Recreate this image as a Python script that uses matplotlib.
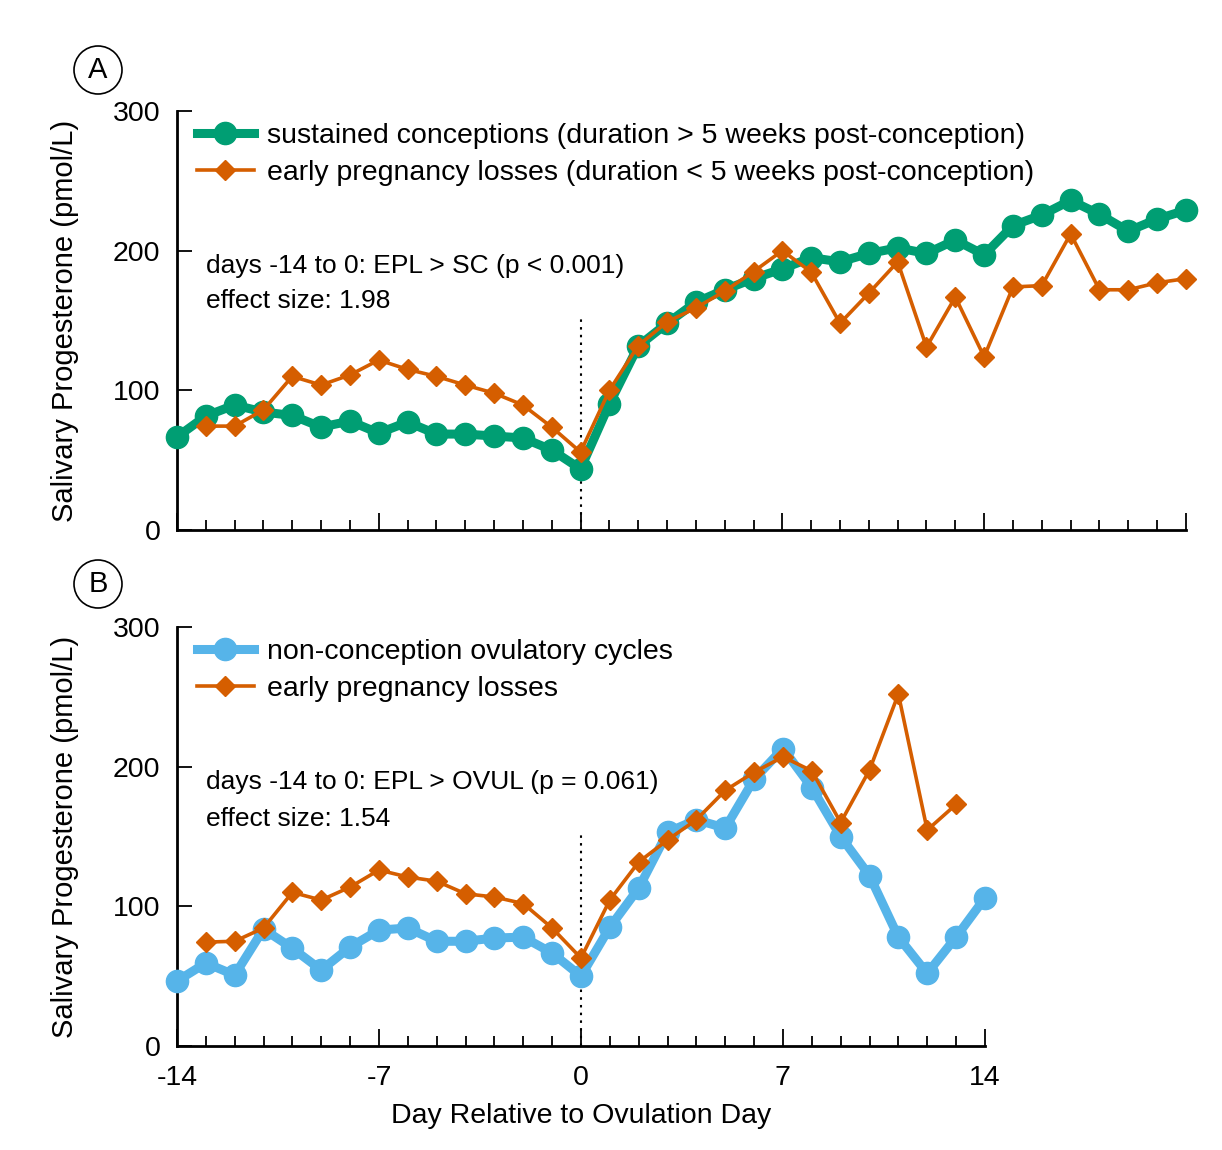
import matplotlib
matplotlib.use("Agg")
import matplotlib.pyplot as plt
from matplotlib.patches import Ellipse

plt.rcParams['font.family'] = ['Liberation Sans', 'DejaVu Sans']

# ---- data ----
days_a = list(range(-14, 22))
sc_vals = [66.6, 81.6, 89.5, 84.5, 82, 73.7, 78, 69.4, 77.3, 68.7, 68.7, 67.3, 65.9, 57.3, 43.7,
           90.2, 131.7, 148, 163, 172, 180, 187, 195, 192, 198, 202, 198, 207.6, 197,
           218, 225.5, 236, 226, 214, 222.6, 229]
days_epl_a = list(range(-13, 22))
epl_a_vals = [74.4, 74.4, 86, 110, 103.8, 111, 121.7, 115, 110, 103.8, 98, 89.5, 73.7, 55.8,
              100, 132, 149, 159, 171, 185, 200, 184.7, 148, 169.6, 192, 131, 166.8, 124,
              174, 175, 212, 172, 172, 177, 180]

days_b = list(range(-14, 15))
ovul_vals = [46.5, 59.4, 50.8, 83.7, 70, 54.4, 70.9, 83, 84.5, 75, 75, 77.3, 78, 66.6, 50,
             85, 113, 153, 162, 156, 191, 213, 185, 150, 122, 78, 52, 78, 106]
days_epl_b = list(range(-13, 14))
epl_b_vals = [74.4, 75, 84.5, 110, 104.5, 113.8, 126, 121, 118, 109, 106.7, 102, 84.5, 63,
              104.5, 131.7, 147.5, 162, 183, 196, 207, 197, 160, 197.6, 252, 154.6, 173]

xticks = [-14, -7, 0, 7, 14]
xticklabels = ['-14', '-7', '0', '7', '14']
yticks = [0, 100, 200, 300]

GREEN = '#009E73'
ORANGE = '#D55E00'
BLUE = '#56B4E9'

FS = 20.5

fig = plt.figure(figsize=(12.22, 11.5), dpi=100)
axA = fig.add_axes([0.1448, 0.5391, 0.9705 - 0.1448, 0.9035 - 0.5391])
axB = fig.add_axes([0.1448, 0.0904, 0.806 - 0.1448, 0.4548 - 0.0904])


def style(ax, xmax, show_labels):
    for s in ['top', 'right']:
        ax.spines[s].set_visible(False)
    for s in ['left', 'bottom']:
        ax.spines[s].set_linewidth(2)
    ax.set_xlim(-14, xmax)
    ax.set_ylim(0, 300)
    ax.set_yticks(yticks)
    ax.set_yticklabels([str(v) for v in yticks], fontsize=FS)
    ax.set_xticks(xticks + ([21] if xmax == 21 else []))
    ax.set_xticks(list(range(-14, xmax + 1)), minor=True)
    ax.tick_params(axis='both', which='major', direction='in', length=12, width=1.3)
    ax.tick_params(axis='x', which='major', pad=14)
    ax.tick_params(axis='y', which='major', pad=12, length=11)
    ax.tick_params(axis='x', which='minor', direction='in', length=7, width=1.3)
    if show_labels:
        ax.set_xticklabels(xticklabels, fontsize=FS)
    else:
        ax.set_xticklabels([])
    ax.set_ylabel('Salivary Progesterone (pmol/L)', fontsize=21, labelpad=24)
    ax.axvline(0, ymin=0, ymax=0.51, color='black', linestyle=(0, (1.2, 2.5)), linewidth=1.5, zorder=1)


style(axA, 21, False)
style(axB, 14, True)

axA.plot(days_a, sc_vals, color=GREEN, lw=6.5, marker='o', ms=16, clip_on=False, zorder=3,
         label='sustained conceptions (duration > 5 weeks post-conception)')
axA.plot(days_epl_a, epl_a_vals, color=ORANGE, lw=2.6, marker='D', ms=10, clip_on=False, zorder=4,
         label='early pregnancy losses (duration < 5 weeks post-conception)')

axB.plot(days_b, ovul_vals, color=BLUE, lw=6.5, marker='o', ms=16, clip_on=False, zorder=3,
         label='non-conception ovulatory cycles')
axB.plot(days_epl_b, epl_b_vals, color=ORANGE, lw=2.6, marker='D', ms=10, clip_on=False, zorder=4,
         label='early pregnancy losses')

for ax in (axA, axB):
    ax.legend(loc='upper left', bbox_to_anchor=(0.0, 1.018), frameon=False, fontsize=FS,
              handlelength=2.0, handletextpad=0.45, labelspacing=0.38, borderaxespad=0.3)

TS = 19
axA.text(-13, 189, 'days -14 to 0: EPL > SC (p < 0.001)', fontsize=TS, va='center')
axA.text(-13, 164, 'effect size: 1.98', fontsize=TS, va='center')
axB.text(-13, 189, 'days -14 to 0: EPL > OVUL (p = 0.061)', fontsize=TS, va='center')
axB.text(-13, 162.5, 'effect size: 1.54', fontsize=TS, va='center')

axB.set_xlabel('Day Relative to Ovulation Day', fontsize=FS, labelpad=8)

# panel labels
for lab, (px, py) in [('A', (98, 70)), ('B', (98, 584))]:
    fx, fy = px / 1222, 1 - py / 1150
    fig.patches.append(Ellipse((fx, fy), 48 / 1222, 48 / 1150, transform=fig.transFigure,
                               facecolor='white', edgecolor='black', lw=1.2))
    fig.text(fx, fy, lab, fontsize=21, ha='center', va='center')

fig.savefig('out.png', dpi=100)
